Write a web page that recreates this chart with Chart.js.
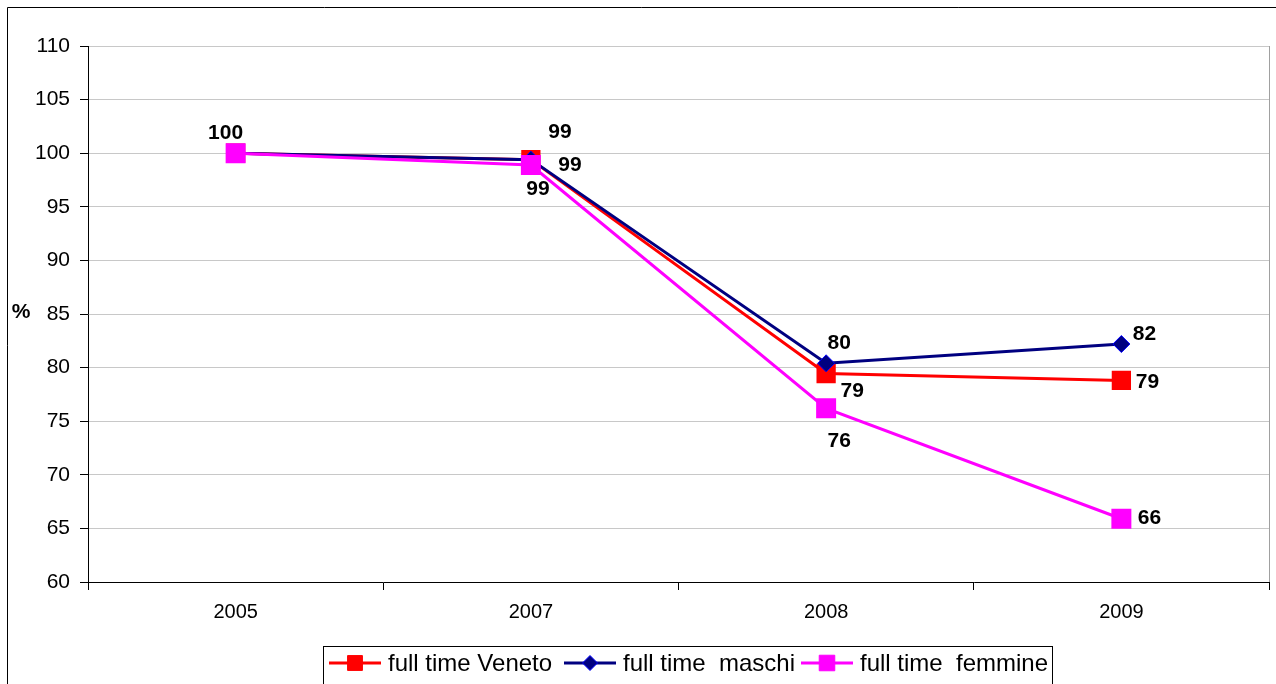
<!DOCTYPE html>
<html>
<head>
<meta charset="utf-8">
<script src="https://cdn.jsdelivr.net/npm/chart.js@4.4.0/dist/chart.umd.min.js"></script>
<style>
  html, body { margin: 0; padding: 0; background: #fff; overflow: hidden; }
  #chart-container { position: relative; width: 1276px; height: 684px; }
  canvas { display: block; }
</style>
</head>
<body>
<div id="chart-container"><canvas id="c"></canvas></div>
<script>
const years = ['2005', '2007', '2008', '2009'];
const veneto = [100, 99.4, 79.45, 78.8];
const maschi = [100, 99.4, 80.4, 82.2];
const femmine = [100, 98.9, 76.2, 65.9];
const seriesNames = ['full time Veneto', 'full time  maschi', 'full time  femmine'];
const yMin = 60, yMax = 110, yStep = 5;

// label offsets (pixels) from each point, null = no label
const labelOffsets = [
    [null, [29, -27], [26, 18], [26, 2]],
    [null, [39, 6], [13, -20], [23, -10]],
    [[-10, -20], [7, 24], [13, 33], [28, -1]]
];

const frame = {
    id: 'frame',
    afterDraw(chart) {
        const ctx = chart.ctx;
        const a = chart.chartArea;
        ctx.save();
        // outer frame (left + top)
        ctx.strokeStyle = '#000';
        ctx.lineWidth = 1;
        ctx.beginPath();
        ctx.moveTo(7.5, 684);
        ctx.lineTo(7.5, 7.5);
        ctx.lineTo(1276, 7.5);
        ctx.stroke();
        // plot right border
        ctx.strokeStyle = '#a0a0a0';
        ctx.beginPath();
        ctx.moveTo(Math.round(a.right) + 0.5, a.top);
        ctx.lineTo(Math.round(a.right) + 0.5, a.bottom);
        ctx.stroke();

        // % label
        ctx.fillStyle = '#000';
        ctx.font = 'bold 21px Arial';
        ctx.textAlign = 'center';
        ctx.textBaseline = 'middle';
        ctx.fillText('%', 21, 312);

        // data labels
        ctx.font = 'bold 21px Arial';
        chart.data.datasets.forEach((ds, i) => {
            const meta = chart.getDatasetMeta(i);
            meta.data.forEach((pt, j) => {
                const off = labelOffsets[i][j];
                if (!off) return;
                ctx.fillText(String(Math.round(ds.data[j])), pt.x + off[0], pt.y + off[1]);
            });
        });

        // legend
        ctx.strokeStyle = '#000';
        ctx.lineWidth = 1;
        ctx.strokeRect(323.5, 646.5, 729, 40);
        const xs = [329, 564, 801];
        const ly = 663;
        ctx.font = '24px Arial';
        ctx.textAlign = 'left';
        chart.data.datasets.forEach((ds, i) => {
            const x0 = xs[i];
            ctx.strokeStyle = ds.borderColor;
            ctx.lineWidth = 3;
            ctx.beginPath();
            ctx.moveTo(x0, ly);
            ctx.lineTo(x0 + 52, ly);
            ctx.stroke();
            ctx.fillStyle = ds.pointBackgroundColor;
            ctx.strokeStyle = ds.pointBorderColor;
            ctx.lineWidth = 1;
            Chart.helpers.drawPoint(ctx, {
                pointStyle: ds.pointStyle,
                radius: ds.pointRadius - 1,
                borderWidth: 1
            }, x0 + 26, ly);
            ctx.fillStyle = '#000';
            ctx.fillText(ds.label, x0 + 59, ly + 1);
        });
        ctx.restore();
    }
};

new Chart(document.getElementById('c'), {
    type: 'line',
    data: {
        labels: years,
        datasets: [{
            label: seriesNames[0],
            data: veneto,
            borderColor: '#ff0000',
            pointBackgroundColor: '#ff0000',
            pointBorderColor: '#ff0000',
            pointStyle: 'rect',
            pointRadius: 11.5,
            borderWidth: 3,
            clip: false,
            order: 3
        }, {
            label: seriesNames[1],
            data: maschi,
            borderColor: '#000080',
            pointBackgroundColor: '#000080',
            pointBorderColor: '#0000ff',
            pointStyle: 'rectRot',
            pointRadius: 8.5,
            pointBorderWidth: 1,
            borderWidth: 3,
            clip: false,
            order: 2
        }, {
            label: seriesNames[2],
            data: femmine,
            borderColor: '#ff00ff',
            pointBackgroundColor: '#ff00ff',
            pointBorderColor: '#ff00ff',
            pointStyle: 'rect',
            pointRadius: 12,
            borderWidth: 3,
            clip: false,
            order: 1
        }]
    },
    options: {
        responsive: true,
        maintainAspectRatio: false,
        animation: false,
        layout: { autoPadding: false, padding: { top: 46, right: 7, left: 0, bottom: 0 } },
        plugins: {
            legend: { display: false },
            tooltip: { enabled: false }
        },
        elements: { line: { tension: 0 } },
        scales: {
            x: {
                offset: true,
                afterFit: s => { s.height = 102; },
                grid: {
                    offset: true,
                    drawOnChartArea: false,
                    drawTicks: true,
                    tickLength: 8,
                    tickColor: '#000'
                },
                border: { color: '#000', width: 1 },
                ticks: { color: '#000', font: { family: 'Arial', size: 20 }, padding: 10, maxRotation: 0 }
            },
            y: {
                min: yMin,
                max: yMax,
                afterFit: s => { s.width = 88; },
                grid: {
                    color: '#c8c8c8',
                    tickLength: 8,
                    tickColor: '#000'
                },
                border: { color: '#000', width: 1 },
                ticks: {
                    stepSize: yStep,
                    color: '#000',
                    font: { family: 'Arial', size: 21 },
                    padding: 10
                }
            }
        }
    },
    plugins: [frame]
});
</script>
</body>
</html>
